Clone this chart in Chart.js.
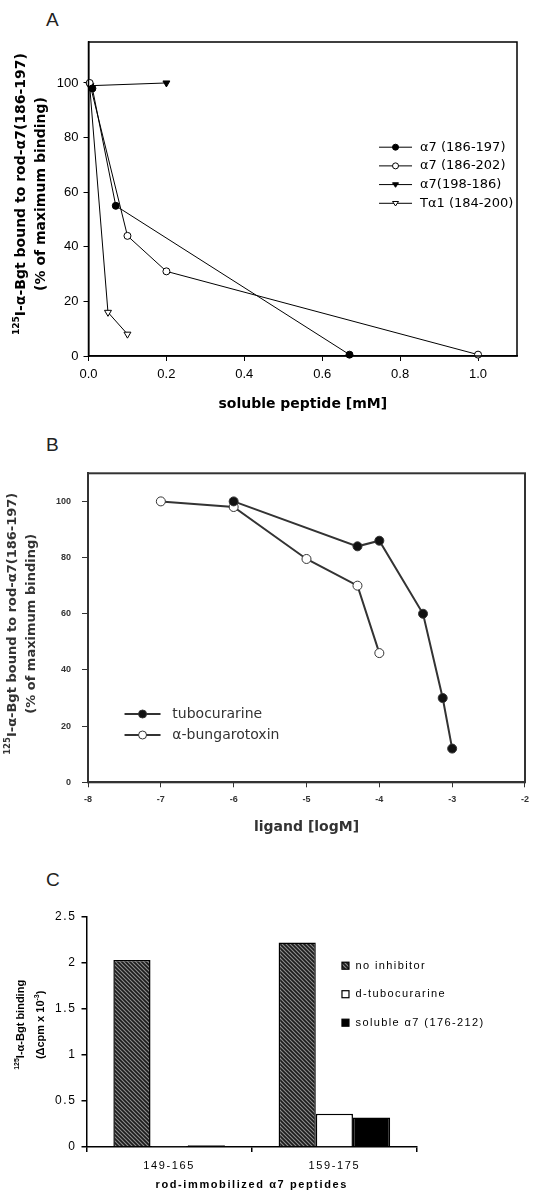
<!DOCTYPE html>
<html>
<head>
<meta charset="utf-8">
<script src="https://cdn.jsdelivr.net/npm/chart.js@4"></script>
<style>
  body { margin: 0; background: #fff; }
  #wrap { position: relative; width: 536px; height: 1192px; }
  canvas { position: absolute; left: 0; }
  .tag { position: absolute; left: 46px; font: 19px/19px "Liberation Sans", Arial, sans-serif; color: #222; }
</style>
</head>
<body>
<div id="wrap">
  <div class="tag" style="top:10px">A</div>
  <div class="tag" style="top:435px">B</div>
  <div class="tag" style="top:870px">C</div>
  <canvas id="chartA" width="536" height="420" style="top:0"></canvas>
  <canvas id="chartB" width="536" height="420" style="top:420px"></canvas>
  <canvas id="chartC" width="536" height="352" style="top:840px"></canvas>
</div>
<script>
// panel A - soluble peptides [mM] vs % binding
const a7_186_197_x = [0.01, 0.07, 0.67];
const a7_186_197_y = [98, 55, 0.5];
const a7_186_202_x = [0.003, 0.1, 0.2, 1.0];
const a7_186_202_y = [100, 44, 31, 0.5];
const a7_198_186_x = [0.005, 0.2];
const a7_198_186_y = [99, 100];
const ta1_x = [0.003, 0.05, 0.1];
const ta1_y = [99, 16, 8];

// panel B - ligand [logM] vs % binding
const tuboLog = [-6, -4.3, -4, -3.4, -3.13, -3];
const tuboY = [100, 84, 86, 60, 30, 12];
const bgtLog = [-7, -6, -5, -4.3, -4];
const bgtY = [100, 98, 79.5, 70, 46];

// panel C - bound counts per immobilized peptide
const peptides = ['149-165', '159-175'];
const noInhibitor = [2.03, 2.22];
const dTubo = [0.005, 0.36];
const solubleA7 = [0.02, 0.32];

Chart.defaults.font.family = '"Liberation Sans", Arial, sans-serif';
Chart.defaults.color = '#000';
Chart.defaults.animation = false;

const pts = (xs, ys) => xs.map((x, i) => ({ x: x, y: ys[i] }));

function marker(ctx, style, x, y, r, fill, stroke, lw) {
  ctx.beginPath();
  if (style === 'triangle') {
    ctx.moveTo(x - r, y - r * 0.6);
    ctx.lineTo(x + r, y - r * 0.6);
    ctx.lineTo(x, y + r * 0.9);
    ctx.closePath();
  } else {
    ctx.arc(x, y, r, 0, Math.PI * 2);
  }
  ctx.fillStyle = fill;
  ctx.fill();
  ctx.strokeStyle = stroke;
  ctx.lineWidth = lw;
  ctx.stroke();
}

// box round the plot area
const frame = {
  id: 'frame',
  afterDatasetsDraw(chart, args, o) {
    const { ctx, chartArea: a } = chart;
    ctx.save();
    ctx.strokeStyle = o.color;
    ctx.lineWidth = o.width;
    ctx.strokeRect(a.left, a.top, a.right - a.left, a.bottom - a.top);
    ctx.restore();
  }
};

// legend with line + marker samples
const lineLegend = {
  id: 'lineLegend',
  afterDraw(chart, args, o) {
    const { ctx, chartArea: a } = chart;
    const x0 = a.left + o.x * (a.right - a.left);
    let y = a.top + o.y * (a.bottom - a.top);
    ctx.save();
    ctx.font = o.font;
    ctx.textBaseline = 'middle';
    chart.data.datasets.forEach(ds => {
      ctx.strokeStyle = ds.borderColor;
      ctx.lineWidth = ds.borderWidth;
      ctx.beginPath();
      ctx.moveTo(x0, y);
      ctx.lineTo(x0 + o.lineLen, y);
      ctx.stroke();
      marker(ctx, ds.pointStyle, x0 + o.lineLen / 2, y, o.radius, ds.pointBackgroundColor, ds.borderColor, 1);
      ctx.fillStyle = o.color;
      ctx.fillText(ds.label, x0 + o.lineLen + o.gap, y);
      y += o.rowH;
    });
    ctx.restore();
  }
};

// legend with filled squares (bar chart)
const boxLegend = {
  id: 'boxLegend',
  afterDraw(chart, args, o) {
    const { ctx, chartArea: a } = chart;
    const x0 = a.left + o.x * (a.right - a.left);
    let y = a.top + o.y * (a.bottom - a.top);
    ctx.save();
    ctx.letterSpacing = o.spacing;
    ctx.font = o.font;
    ctx.textBaseline = 'middle';
    chart.data.datasets.forEach(ds => {
      ctx.fillStyle = ds.backgroundColor;
      ctx.fillRect(x0, y - o.size / 2, o.size, o.size);
      ctx.strokeStyle = '#000';
      ctx.lineWidth = 1.2;
      ctx.strokeRect(x0, y - o.size / 2, o.size, o.size);
      ctx.fillStyle = '#000';
      ctx.fillText(ds.label, x0 + o.size + o.gap, y);
      y += o.rowH;
    });
    ctx.restore();
  }
};

// rotated y title with superscripts
const yTitle = {
  id: 'yTitle',
  afterDraw(chart, args, o) {
    const { ctx, chartArea: a } = chart;
    const cy = (a.top + a.bottom) / 2 + o.dy;
    ctx.save();
    ctx.letterSpacing = '0px';
    ctx.fillStyle = o.color;
    ctx.textBaseline = 'middle';
    o.lines.forEach((parts, i) => {
      ctx.save();
      ctx.translate(o.x[i], cy);
      ctx.rotate(-Math.PI / 2);
      const fonts = parts.map(p => 'bold ' + (p[1] ? o.supSize : o.size) + 'px ' + o.family);
      const widths = parts.map((p, j) => { ctx.font = fonts[j]; return ctx.measureText(p[0]).width; });
      let x = -widths.reduce((s, w) => s + w, 0) / 2;
      parts.forEach((p, j) => {
        ctx.font = fonts[j];
        ctx.fillText(p[0], x, p[1] ? -o.size * 0.38 : 0);
        x += widths[j];
      });
      ctx.restore();
    });
    ctx.restore();
  }
};

// spaced lettering for panel C
const spacing = {
  id: 'spacing',
  beforeLayout(chart, args, o) { chart.ctx.letterSpacing = o.value; },
  beforeDraw(chart, args, o) { chart.ctx.letterSpacing = o.value; }
};

function lineSet(label, xs, ys, style, fill, color, width, r) {
  return {
    label: label,
    data: pts(xs, ys),
    borderColor: color,
    borderWidth: width,
    pointStyle: style,
    pointRotation: style === 'triangle' ? 180 : 0,
    pointRadius: r,
    pointBorderWidth: 1,
    pointBackgroundColor: fill,
    pointBorderColor: color,
    clip: false
  };
}

// First panel
new Chart(document.getElementById('chartA'), {
  type: 'line',
  data: {
    datasets: [
      lineSet('α7 (186-197)', a7_186_197_x, a7_186_197_y, 'circle', '#000', '#000', 1, 3.5),
      lineSet('α7 (186-202)', a7_186_202_x, a7_186_202_y, 'circle', '#fff', '#000', 1, 3.5),
      lineSet('α7(198-186)', a7_198_186_x, a7_198_186_y, 'triangle', '#000', '#000', 1, 4),
      lineSet('Tα1 (184-200)', ta1_x, ta1_y, 'triangle', '#fff', '#000', 1, 4)
    ]
  },
  options: {
    responsive: false,
    layout: { padding: { top: 42, right: 19, left: 0, bottom: 0 } },
    plugins: {
      legend: { display: false },
      tooltip: { enabled: false },
      frame: { color: '#000', width: 1.5 },
      lineLegend: { x: 0.678, y: 0.335, lineLen: 33, gap: 8, rowH: 18.7, radius: 3,
        font: '13px "DejaVu Sans"', color: '#000' },
      yTitle: { x: [21.5, 41], dy: -5, size: 14, supSize: 9, family: '"DejaVu Sans"', color: '#000',
        lines: [[['125', true], ['I-α-Bgt bound to rod-α7(186-197)', false]], [['(% of maximum binding)', false]]] }
    },
    scales: {
      x: {
        type: 'linear', min: 0, max: 1.1,
        ticks: { stepSize: 0.2, includeBounds: false, callback: v => v.toFixed(1), font: { size: 13 }, padding: 6, maxRotation: 0 },
        grid: { drawOnChartArea: false, tickLength: 5, color: '#000' },
        border: { color: '#000', width: 1.5 },
        title: { display: true, text: 'soluble peptide [mM]', color: '#000',
          font: { family: '"DejaVu Sans"', size: 14, weight: 'bold' }, padding: { top: 0, bottom: 7 } },
        afterFit: s => { s.height = 64; }
      },
      y: {
        min: 0, max: 115,
        ticks: { stepSize: 20, includeBounds: false, font: { size: 13 }, padding: 5 },
        grid: { drawOnChartArea: false, tickLength: 5, color: '#000' },
        border: { color: '#000', width: 1.5 },
        afterFit: s => { s.width = 88.5; }
      }
    }
  },
  plugins: [frame, lineLegend, yTitle]
});

// Second panel
new Chart(document.getElementById('chartB'), {
  type: 'line',
  data: {
    datasets: [
      lineSet('tubocurarine', tuboLog, tuboY, 'circle', '#111', '#333', 2, 4.5),
      lineSet('α-bungarotoxin', bgtLog, bgtY, 'circle', '#fff', '#333', 2, 4.5)
    ]
  },
  options: {
    responsive: false,
    layout: { padding: { top: 53.3, right: 8, left: 0, bottom: 0 } },
    plugins: {
      legend: { display: false },
      tooltip: { enabled: false },
      frame: { color: '#333', width: 2 },
      lineLegend: { x: 0.0836, y: 0.779, lineLen: 36, gap: 11.8, rowH: 21, radius: 4,
        font: '14px "DejaVu Sans"', color: '#333' },
      yTitle: { x: [13, 32], dy: -4, size: 13, supSize: 8.5, family: '"DejaVu Sans"', color: '#333',
        lines: [[['125', true], ['I-α-Bgt bound to rod-α7(186-197)', false]], [['(% of maximum binding)', false]]] }
    },
    scales: {
      x: {
        type: 'linear', min: -8, max: -2,
        ticks: { stepSize: 1, font: { size: 9, weight: 'bold' }, color: '#333', padding: 7, maxRotation: 0 },
        grid: { drawOnChartArea: false, tickLength: 5, color: '#333' },
        border: { color: '#333', width: 2 },
        title: { display: true, text: 'ligand [logM]', color: '#333',
          font: { family: '"DejaVu Sans"', size: 14, weight: 'bold' }, padding: { top: 0, bottom: 4.6 } },
        afterFit: s => { s.height = 57.7; }
      },
      y: {
        min: 0, max: 110,
        ticks: { stepSize: 20, includeBounds: false, font: { size: 9, weight: 'bold' }, color: '#333', padding: 11 },
        grid: { drawOnChartArea: false, tickLength: 6, color: '#333' },
        border: { color: '#333', width: 2 },
        afterFit: s => { s.width = 88; }
      }
    }
  },
  plugins: [frame, lineLegend, yTitle]
});

// Third panel - hatched fill for "no inhibitor"
const tile = document.createElement('canvas');
tile.width = 4;
tile.height = 4;
const tg = tile.getContext('2d');
tg.fillStyle = '#8e8e8e';
tg.fillRect(0, 0, 4, 4);
tg.strokeStyle = '#1c1c1c';
tg.lineWidth = 1.7;
tg.beginPath();
tg.moveTo(-1, -1); tg.lineTo(5, 5);
tg.moveTo(-1, 3); tg.lineTo(1, 5);
tg.moveTo(3, -1); tg.lineTo(5, 1);
tg.stroke();
const ctxC = document.getElementById('chartC').getContext('2d');
const hatch = ctxC.createPattern(tile, 'repeat');

new Chart(ctxC, {
  type: 'bar',
  data: {
    labels: peptides,
    datasets: [
      { label: 'no inhibitor', data: noInhibitor, backgroundColor: hatch, borderColor: '#000', borderWidth: 1.5 },
      { label: 'd-tubocurarine', data: dTubo, backgroundColor: '#fff', borderColor: '#000', borderWidth: 1.5 },
      { label: 'soluble α7 (176-212)', data: solubleA7, backgroundColor: '#000', borderColor: '#000', borderWidth: 1.5 }
    ]
  },
  options: {
    responsive: false,
    datasets: { bar: { categoryPercentage: 0.675, barPercentage: 1.0 } },
    layout: { padding: { top: 76.7, right: 119, left: 0, bottom: 0 } },
    plugins: {
      legend: { display: false },
      tooltip: { enabled: false },
      spacing: { value: '1.6px' },
      boxLegend: { x: 0.773, y: 0.2128, size: 7, gap: 6.5, rowH: 28.5, spacing: '1.4px',
        font: '11px "Liberation Sans", Arial, sans-serif' },
      yTitle: { x: [21.2, 41], dy: -7, size: 11, supSize: 7, family: '"Liberation Sans", Arial, sans-serif', color: '#000',
        lines: [[['125', true], ['I-α-Bgt binding', false]], [['(Δcpm x 10', false], ['-3', true], [')', false]]] }
    },
    scales: {
      x: {
        ticks: { font: { size: 11 }, padding: 7, maxRotation: 0 },
        grid: { offset: true, drawOnChartArea: false, tickLength: 5, color: '#000', lineWidth: 1.5 },
        border: { color: '#000', width: 1.5 },
        title: { display: true, text: 'rod-immobilized α7 peptides', color: '#000',
          font: { size: 11, weight: 'bold' }, padding: { top: 0, bottom: 0 } },
        afterFit: s => { s.height = 45; }
      },
      y: {
        min: 0, max: 2.5,
        ticks: { stepSize: 0.5, font: { size: 12 }, padding: 5, callback: v => String(+v.toFixed(1)) },
        grid: { drawOnChartArea: false, tickLength: 5, color: '#000', lineWidth: 1.5 },
        border: { color: '#000', width: 1.5 },
        afterFit: s => { s.width = 86.5; }
      }
    }
  },
  plugins: [spacing, boxLegend, yTitle]
});
</script>
</body>
</html>
